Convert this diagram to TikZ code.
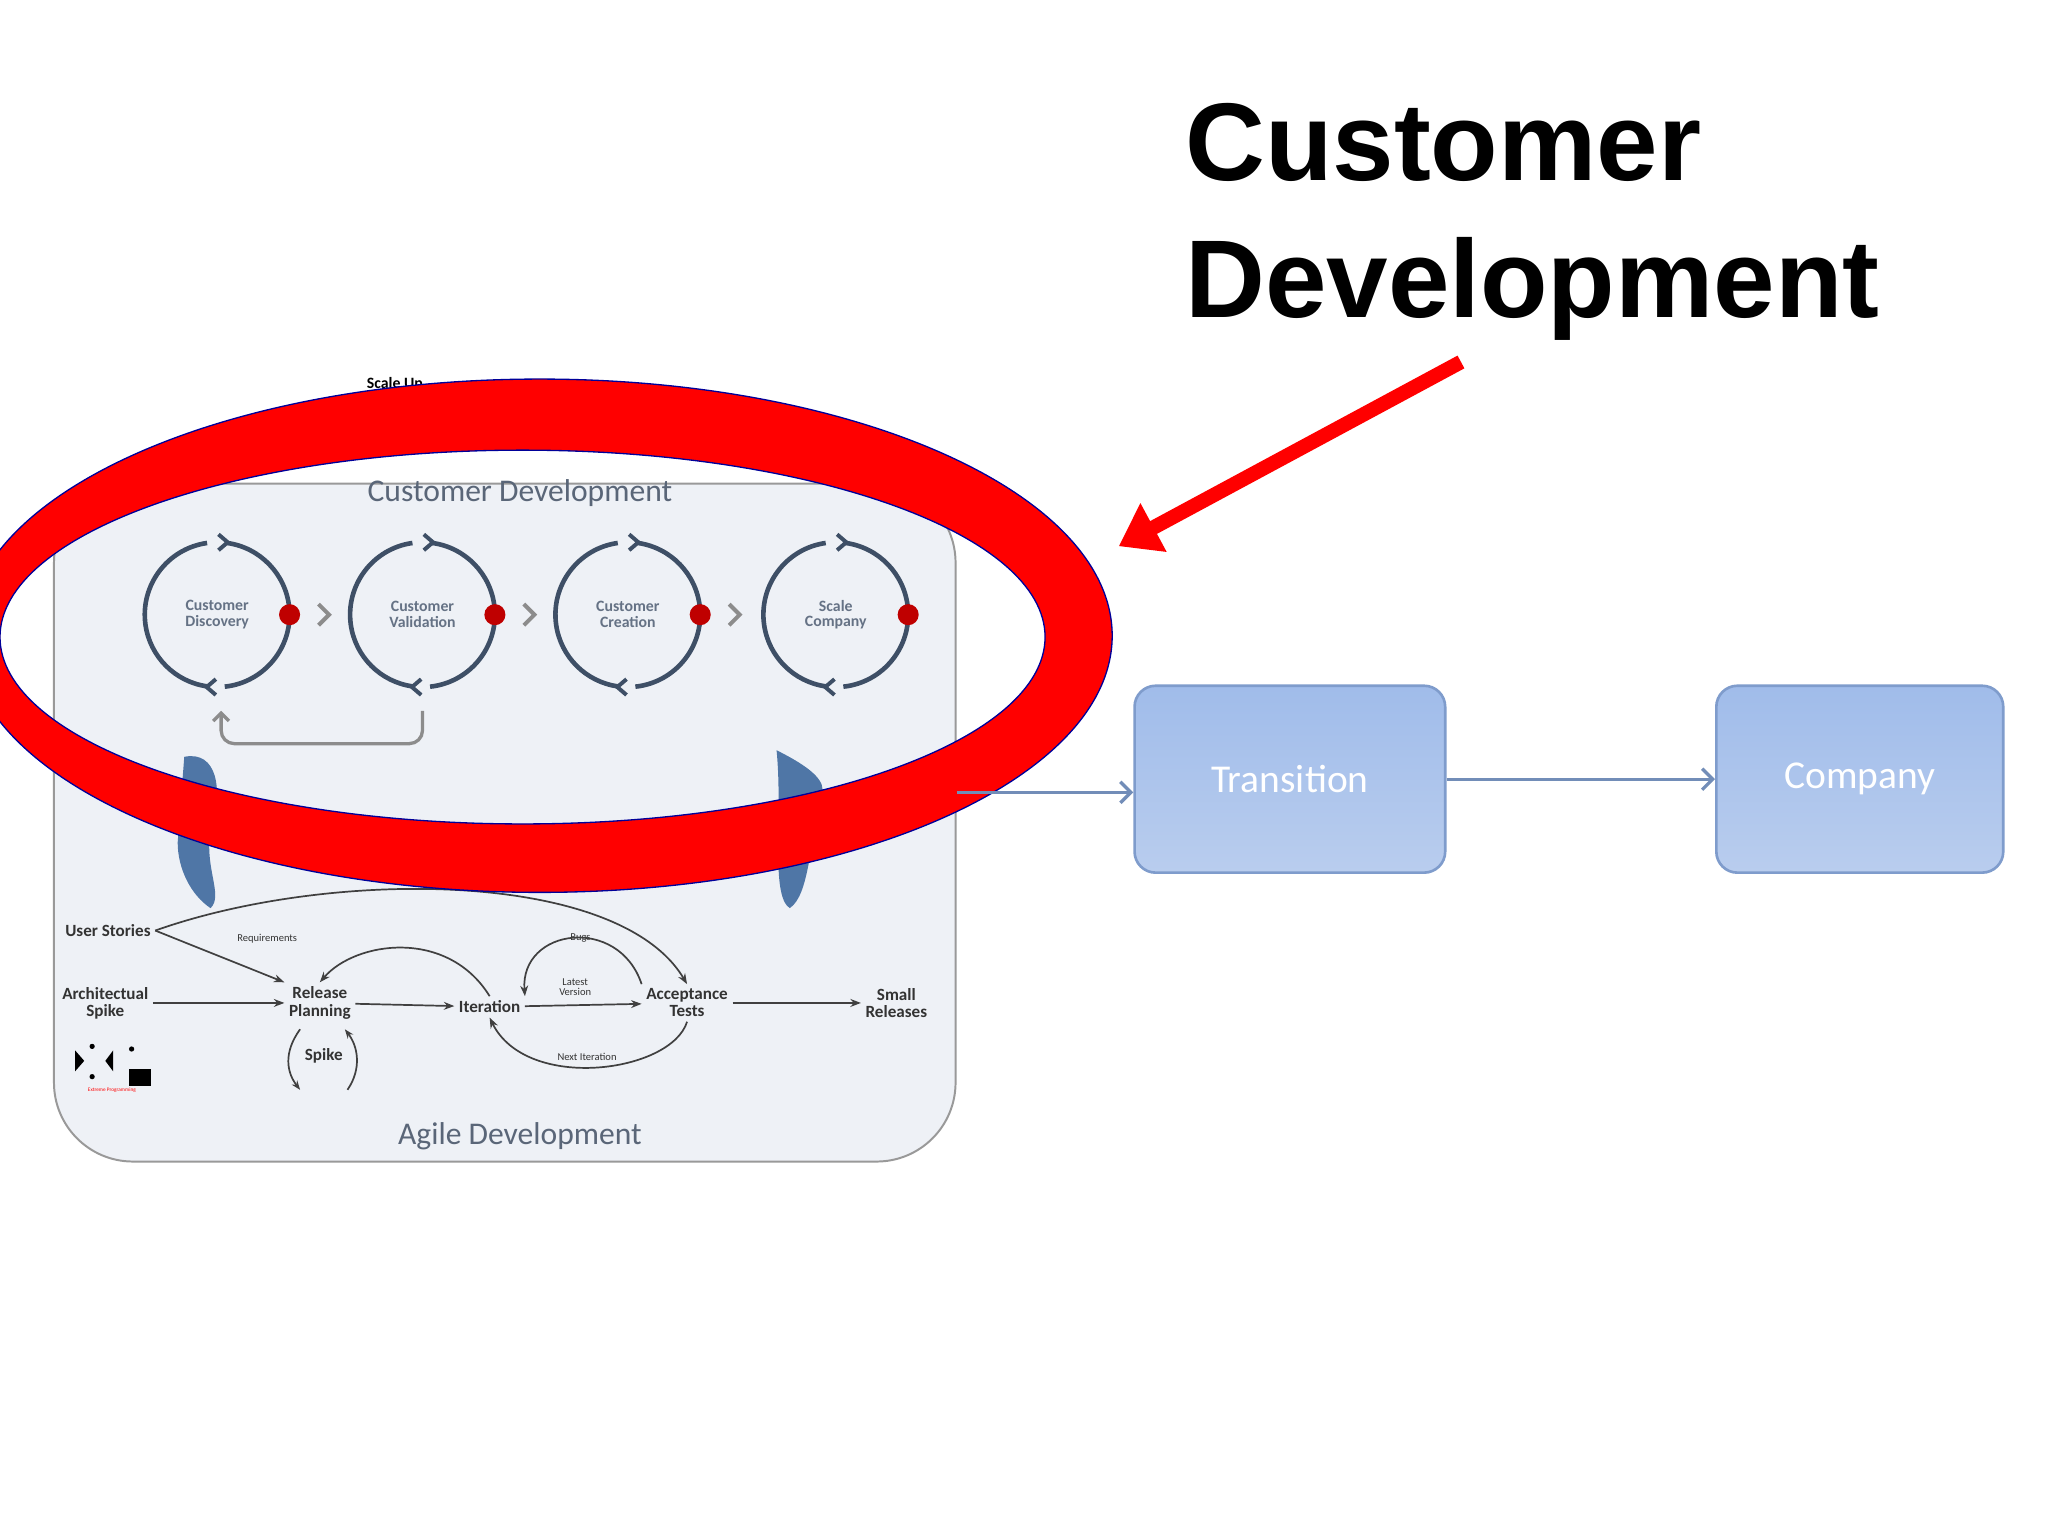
\documentclass[tikz,border=0pt]{standalone}
\usepackage{fontspec}
\setmainfont{Carlito}
\newfontfamily\arial{Liberation Sans}
\usetikzlibrary{arrows.meta,calc}
\definecolor{slate}{HTML}{3E4F66}
\definecolor{panel}{HTML}{EEF1F6}
\definecolor{boxb}{HTML}{7F9CCC}
\definecolor{boxt}{HTML}{A0BCEA}
\definecolor{boxl}{HTML}{B9CDEE}
\definecolor{cdgray}{HTML}{5A6678}
\definecolor{redc}{HTML}{FF0000}
\definecolor{blob}{HTML}{4F76A6}
\tikzset{
  cyc/.style={draw=slate,line width=3.5pt},
  ctext/.style={font=\bfseries\fontsize{12}{12}\selectfont,text=slate!80,align=center},
  atext/.style={font=\bfseries\fontsize{13}{13}\selectfont,text=black!80,align=center},
  stext/.style={font=\fontsize{8}{8}\selectfont,text=black!80,align=center},
  aarr/.style={draw=black!75,line width=1.3pt,-{Stealth[length=8pt,width=6pt]}},
  bbox/.style={draw=boxb,line width=2pt,rounded corners=16pt,top color=boxt,bottom color=boxl,minimum width=236pt,minimum height=142pt,text=white,font=\fontsize{30}{30}\selectfont},
}
\begin{document}
\begin{tikzpicture}[x=1pt,y=-1pt]
\useasboundingbox (0,0) rectangle (1556,1167);
\fill[white] (0,0) rectangle (1556,1167);
% panel
\node[draw=black!40,line width=1.5pt,fill=panel,rounded corners=60pt,minimum width=685pt,minimum height=515pt] (panel) at (383.5,625) {};
\node[font=\fontsize{12}{12}\selectfont\bfseries] (hid) at (300,292) {Scale Up};
\node[font=\fontsize{24}{24}\selectfont,text=cdgray] (cdt) at (395,375) {Customer Development};
% cycles
\foreach \n/\x/\t in {c1/165/Customer\\Discovery,c2/321/Customer\\Validation,c3/477/Customer\\Creation,c4/635/Scale\\Company}{
  \node[circle,minimum size=110pt] (\n) at (\x,467) {};
  \draw[cyc] (\x,467) ++(84:55) arc[start angle=84,end angle=-82,radius=55];
  \draw[cyc] (\x,467) ++(-98:55) arc[start angle=-98,end angle=-262,radius=55];
  \draw[cyc,line width=3pt] (\x+1,406) -- (\x+8,412) -- (\x+1,418);
  \draw[cyc,line width=3pt] (\x-1,516) -- (\x-8,522) -- (\x-1,528);
  \node[ctext] at (\x,467) {\t};
  \fill[red!75!black] (\x+55,467) circle (8pt);
}
\foreach \x in {246,402,558}{
  \draw[black!45,line width=3pt] (\x-4,459) -- (\x+4,467) -- (\x-4,475);
}
\coordinate (lb1) at (321,540);
\coordinate (lb2) at (168,540);
\draw[black!45,line width=2.5pt,rounded corners=10pt,-{Straight Barb[length=6pt,width=12pt]}] (lb1) -- (321,565) -- (168,565) -- (lb2);
% blobs
\fill[blob] (140,575) .. controls (165,570) and (170,600) .. (160,630) .. controls (155,660) and (170,680) .. (160,690) .. controls (145,680) and (135,660) .. (135,640) -- cycle;
\fill[blob] (590,570) .. controls (610,580) and (625,590) .. (625,600) .. controls (615,640) and (615,680) .. (600,690) .. controls (585,680) and (595,620) .. (590,570) -- cycle;
% agile
\node[atext] (us) at (82,707) {User Stories};
\node[atext] (as) at (80,762) {Architectual\\Spike};
\node[atext] (rp) at (243,762) {Release\\Planning};
\node[atext] (it) at (372,765) {Iteration};
\node[atext] (at) at (522,762) {Acceptance\\Tests};
\node[atext] (sr) at (681,762) {Small\\Releases};
\node[atext] (sp) at (246,802) {Spike};
\node[stext] at (203,713) {Requirements};
\node[stext] at (441,713) {Bugs};
\node[stext] at (437,750) {Latest\\Version};
\node[stext] at (446,803) {Next Iteration};
\draw[aarr] (as) -- (rp);
\draw[aarr] (rp) -- (it);
\draw[aarr] (it) -- (at);
\draw[aarr] (at) -- (sr);
\draw[aarr] (us.east) -- (rp.north west);
\draw[aarr] (us.east) .. controls (250,660) and (470,660) .. (at.north);
\draw[aarr] (it.north) .. controls (340,705) and (270,715) .. (rp.north);
\draw[aarr] (at.north west) .. controls (470,695) and (395,705) .. (it.north east);
\draw[aarr] (at.south) .. controls (510,815) and (400,830) .. (it.south);
\draw[black!75,line width=1.3pt,-{Stealth[length=7pt]}] (228,782) .. controls (215,800) and (218,815) .. (228,828);
\draw[black!75,line width=1.3pt,-{Stealth[length=7pt]}] (264,828) .. controls (275,812) and (272,795) .. (262,782);
% xp logo
\fill[black] (57,798) -- (64,806) -- (57,814) -- cycle;
\fill[black] (86,798) -- (80,806) -- (86,814) -- cycle;
\fill[black] (98,812) rectangle (115,825);
\fill[black] (70,795) circle (2pt) (100,797) circle (2pt) (70,818) circle (2pt);
\node[font=\fontsize{4}{4}\selectfont,text=red] at (85,828) {Extreme Programming};
\node[font=\fontsize{24}{24}\selectfont,text=cdgray] (adt) at (395,863) {Agile Development};
% ellipse ring
\fill[redc,even odd rule,draw=blue!60!black,line width=1pt] (410,483) ellipse [x radius=435,y radius=195] (397,484) ellipse [x radius=397,y radius=142];
% right boxes
\node[bbox] (tr) at (980,592) {Transition};
\node[bbox,minimum width=218pt] (co) at (1413,592) {Company};
\draw[boxb!90!black,line width=2.5pt,-{Straight Barb[length=8pt,width=16pt]}] (panel.east |- tr.west) ++(0,10) -- ($(tr.west)+(0,10)$);
\draw[boxb!90!black,line width=2.5pt,-{Straight Barb[length=8pt,width=16pt]}] (tr.east) -- (co.west);
% title
\node[font=\arial\bfseries\fontsize{84}{104}\selectfont,align=left,anchor=north west] (title) at (897,75) {Customer\\Development};
\coordinate (a1) at (1110,275);
\coordinate (a2) at (850,415);
\draw[redc,line width=11pt,-{Triangle[length=30pt,width=40pt]}] (a1) -- (a2);
\end{tikzpicture}
\end{document}
